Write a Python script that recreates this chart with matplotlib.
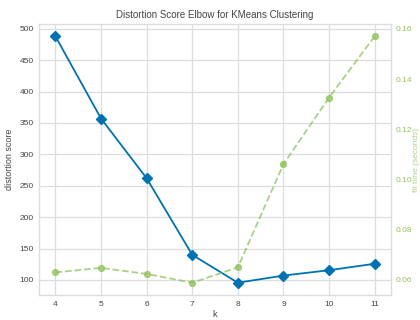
import matplotlib
matplotlib.use('Agg')
import matplotlib.pyplot as plt

K = [4, 5, 6, 7, 8, 9, 10, 11]
DISTORTION = [488, 357, 262, 140, 95.6, 107, 115.5, 125.8]
FIT_TIME = [0.0630, 0.0648, 0.0624, 0.0589, 0.0650, 0.1061, 0.1326, 0.1570]

BLUE = '#0072B2'
GREEN = '#8FC25B'
GRID = '#dddddd'
TXT = '#444444'

plt.rcParams['font.family'] = ['Liberation Sans', 'DejaVu Sans']

fig = plt.figure(figsize=(4.2, 3.2), dpi=100)
ax = fig.add_axes([0.094, 0.078, 0.836, 0.847])
ax.plot(K, DISTORTION, color=BLUE, marker='D', markersize=4.8, lw=1.3)
ax.set_xticks(K)
ax.grid(True, color=GRID, lw=0.9)
ax.set_axisbelow(True)
for s in ax.spines.values():
    s.set_color(GRID)
    s.set_linewidth(1.0)
ax.tick_params(length=0, labelsize=6, colors=TXT, pad=4)
ax.set_xlabel('k', fontsize=6.5, color=TXT, labelpad=2)
ax.set_ylabel('distortion score', fontsize=6.5, color=TXT, labelpad=4)
ax.set_title('Distortion Score Elbow for KMeans Clustering', fontsize=7, color=TXT, pad=4)

ax2 = ax.twinx()
ax2.plot(K, FIT_TIME, color=GREEN, marker='o', markersize=4.2, lw=1.3, ls='--', alpha=0.75)
ax2.grid(False)
for s in ax2.spines.values():
    s.set_visible(False)
ax2.tick_params(length=0, labelsize=6, colors=GREEN, pad=3.5)
ax2.set_ylabel('fit time (seconds)', fontsize=6, color=GREEN, labelpad=0.5, alpha=0.75)

fig.savefig('out.png', dpi=100)
